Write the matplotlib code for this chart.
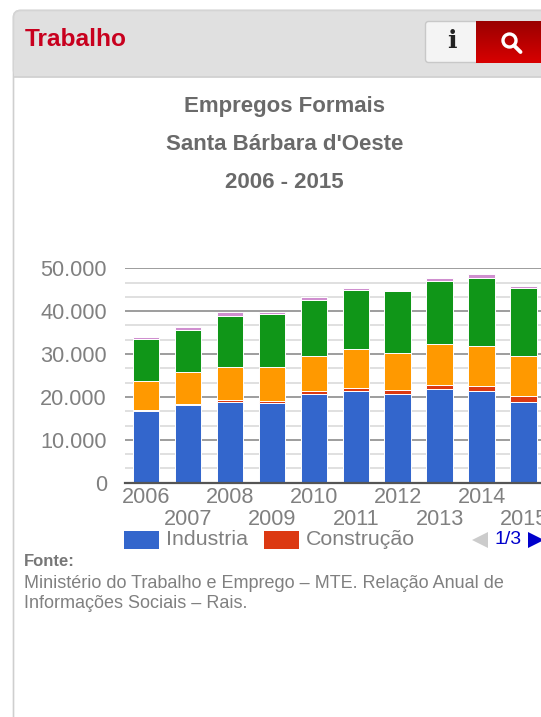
import numpy as np
import matplotlib
matplotlib.use("Agg")
import matplotlib.pyplot as plt
from matplotlib.patches import Rectangle, FancyBboxPatch, Polygon, Circle

years = [2006, 2007, 2008, 2009, 2010, 2011, 2012, 2013, 2014, 2015]
# cumulative tops
industria_top = [16800, 18100, 18900, 18500, 20800, 21300, 20800, 21800, 21300, 18800]
construcao_top = [17000, 18350, 19300, 19050, 21400, 22200, 21600, 22900, 22550, 20200]
comercio_top = [23700, 25700, 27000, 27000, 29500, 31100, 30200, 32300, 31900, 29500]
servicos_top = [33500, 35500, 38900, 39300, 42500, 44900, 44600, 47000, 47700, 45300]
outros_top = [33900, 36400, 39700, 39800, 43300, 45400, 45000, 47800, 48600, 45900]
series_names = ["Industria", "Construção"]
colors = ["#3366CC", "#DC3912", "#FF9900", "#109618", "#CF8FCF"]
y_major = [0, 10000, 20000, 30000, 40000, 50000]
y_labels = ["0", "10.000", "20.000", "30.000", "40.000", "50.000"]
y_minor = [v + d for v in y_major[:-1] for d in (3333, 6667)]

W, H = 541, 717
fig = plt.figure(figsize=(W / 100, H / 100), dpi=100)
fig.patch.set_facecolor("white")
plt.rcParams["font.family"] = ["Liberation Sans", "DejaVu Sans"]

# page chrome, in pixel coordinates
bg = fig.add_axes([0, 0, 1, 1], zorder=0)
bg.set_xlim(0, W); bg.set_ylim(H, 0); bg.axis("off")
bg.add_patch(FancyBboxPatch((13.5, 10.5), 600, 800, boxstyle="round,pad=0,rounding_size=7",
                            fc="white", ec="#cfcfcf", lw=1.2))
head = FancyBboxPatch((13.5, 10.5), 600, 66, boxstyle="round,pad=0,rounding_size=7",
                      fc="#e0e0e0", ec="#d4d4d4", lw=1.2)
bg.add_patch(head)
bg.add_patch(Rectangle((14, 60), 600, 17, fc="#e0e0e0", ec="none"))
bg.plot([13.5, W], [77, 77], color="#d0d0d0", lw=1.2)
bg.text(25, 40, "Trabalho", color="#c8001e", fontsize=17.6, fontweight="bold", va="center", ha="left")

white_btn = FancyBboxPatch((425.5, 21.5), 60, 41, boxstyle="round,pad=0,rounding_size=3",
                           fc="#f4f4f4", ec="#c8c8c8", lw=1)
bg.add_patch(white_btn)
g = np.linspace(0, 1, 64).reshape(-1, 1)
im = bg.imshow(g, extent=(476, 545, 63, 21), aspect="auto", zorder=3,
               cmap=matplotlib.colors.LinearSegmentedColormap.from_list("r", ["#9a0000", "#d80000"]))
bg.set_xlim(0, W); bg.set_ylim(H, 0)
bg.text(451.5, 41, "i", color="#222222", fontsize=18, fontweight="bold", family="DejaVu Serif",
        ha="center", va="center")
bg.add_patch(Circle((509.5, 40.5), 6.5, fc="none", ec="white", lw=2.4, zorder=4))
bg.plot([514, 520.5], [45.5, 52], color="white", lw=2.8, zorder=4, solid_capstyle="round")

title_c = "#6a6a6a"
for txt, y in [("Empregos Formais", 106.5), ("Santa Bárbara d'Oeste", 144.5), ("2006 - 2015", 182.5)]:
    bg.text(284.5, y, txt, color=title_c, fontsize=16, fontweight="bold", ha="center", va="center")

# chart
x0, x1, ytop, ybot = 125.0, 541.0, 268.3, 482.7
ax = fig.add_axes([x0 / W, 1 - ybot / H, (x1 - x0) / W, (ybot - ytop) / H], zorder=2)
ax.patch.set_alpha(0)
step, c0 = 41.95, 146.0
ax.set_xlim((x0 - c0) / step, (x1 - c0) / step)
ax.set_ylim(0, 50000)
for s in ax.spines.values():
    s.set_visible(False)
ax.set_axisbelow(True)
ax.set_yticks(y_major)
ax.set_yticklabels(y_labels)
ax.set_yticks(y_minor, minor=True)
ax.grid(axis="y", which="major", color="#8c8c8c", lw=1.2)
ax.grid(axis="y", which="minor", color="#dadada", lw=1.2)
ax.tick_params(axis="y", which="both", length=0)
ax.tick_params(axis="y", which="major", pad=13, labelsize=15.7, labelcolor="#808080")
ax.set_xticks(range(len(years)))
ax.set_xticklabels([str(y) for y in years])
ax.tick_params(axis="x", length=0, labelsize=15.6, labelcolor="#808080")
for i, t in enumerate(ax.xaxis.get_major_ticks()):
    t.set_pad(3.2 if i % 2 == 0 else 19.2)
    t.label1.set_clip_on(False)

tops = [industria_top, construcao_top, comercio_top, servicos_top, outros_top]
bottom = np.zeros(len(years))
xs = np.arange(len(years))
for top, c in zip(tops, colors):
    top = np.array(top, float)
    ax.bar(xs, top - bottom, bottom=bottom, width=26.5 / step, color=c, edgecolor="white", linewidth=0.7, zorder=3)
    bottom = top
ax.axhline(0, color="#555555", lw=1.6, zorder=4, clip_on=False)

# legend
lc = "#808080"
for (xa, xb, tx, name, c) in [(124, 159, 166.5, series_names[0], colors[0]),
                              (263.5, 298.5, 305.5, series_names[1], colors[1])]:
    bg.add_patch(Rectangle((xa, 531), xb - xa, 18, fc=c, ec="none"))
    bg.text(tx, 539.5, name, color=lc, fontsize=15.4, ha="left", va="center")
bg.add_patch(Polygon([[472, 540], [488, 532], [488, 548]], fc="#cccccc", ec="none"))
bg.text(495, 539.5, "1/3", color="#0000cc", fontsize=14.0, ha="left", va="center")
bg.add_patch(Polygon([[528, 532], [544, 540], [528, 548]], fc="#0000cc", ec="none"))

# source
sc = "#808080"
bg.text(24, 561, "Fonte:", color="#777777", fontsize=12, fontweight="bold", ha="left", va="center")
bg.text(24, 583, "Ministério do Trabalho e Emprego – MTE. Relação Anual de", color=sc, fontsize=13, ha="left", va="center")
bg.text(24, 604, "Informações Sociais – Rais.", color=sc, fontsize=13, ha="left", va="center")

fig.savefig("out.png", dpi=100)
